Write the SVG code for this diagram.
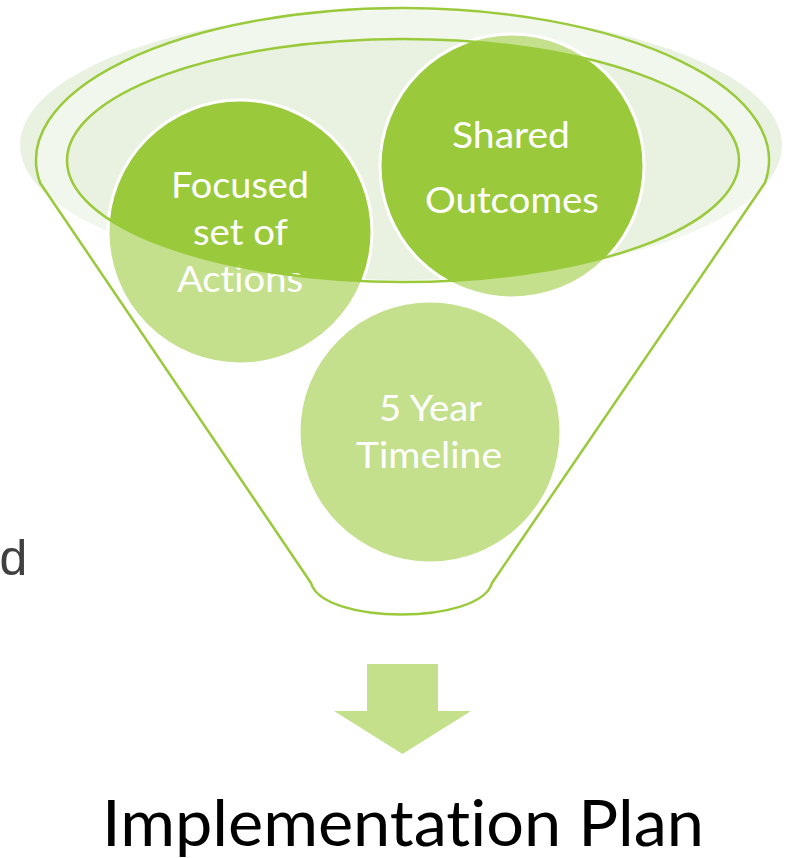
<svg xmlns="http://www.w3.org/2000/svg" width="792" height="858" viewBox="0 0 792 858">
  <style>
    text { font-variant-ligatures: none; font-feature-settings: "liga" 0, "clig" 0; }
    .bubble { fill: #9ACA3C; stroke: #FFFFFF; stroke-width: 3; }
    .btxt { font-family: Lato, "Open Sans", "Liberation Sans", sans-serif; font-size: 36px; fill: #FFFFFF; text-anchor: middle; }
    .rim { fill: none; stroke: #9ACA3C; stroke-width: 2.5; stroke-linejoin: round; }
  </style>
  <rect width="792" height="858" fill="#FFFFFF"/>

  <g id="funnel-shadow">
    <ellipse cx="401" cy="145" rx="381" ry="135" fill="#E9F2E0"/>
  </g>

  <g id="node-focused">
    <circle class="bubble" cx="240" cy="232" r="132"/>
    <text class="btxt" x="240" y="198" textLength="138" lengthAdjust="spacingAndGlyphs">Focused</text>
    <text class="btxt" x="240.5" y="245" textLength="95" lengthAdjust="spacingAndGlyphs">set of</text>
    <text class="btxt" x="240" y="292" textLength="126" lengthAdjust="spacingAndGlyphs">Actions</text>
  </g>

  <g id="node-shared">
    <circle class="bubble" cx="512" cy="166" r="132"/>
    <text class="btxt" x="511" y="148" textLength="118" lengthAdjust="spacingAndGlyphs">Shared</text>
    <text class="btxt" x="512" y="213" textLength="174" lengthAdjust="spacingAndGlyphs">Outcomes</text>
  </g>

  <g id="node-timeline">
    <circle class="bubble" cx="430" cy="432" r="131"/>
    <text class="btxt" x="430.5" y="421" textLength="103" lengthAdjust="spacingAndGlyphs">5 Year</text>
    <text class="btxt" x="429" y="468" textLength="146" lengthAdjust="spacingAndGlyphs">Timeline</text>
  </g>

  <g id="funnel">
    <path fill="#FFFFFF" fill-opacity="0.42" fill-rule="evenodd"
      d="M 40.2 183 A 366.5 152 0 1 1 764.8 183 L 492 583 C 480 625 323 625 311 583 Z
         M 67 160.5 A 336 121.5 0 1 0 739 160.5 A 336 121.5 0 1 0 67 160.5 Z"/>
    <path class="rim" d="M 40.2 183 A 366.5 152 0 1 1 764.8 183 L 492 583 C 480 625 323 625 311 583 Z"/>
    <ellipse class="rim" cx="403" cy="160.5" rx="336" ry="121.5"/>
  </g>

  <g id="connectors">
    <polygon fill="#C4E08A" points="367,664 438,664 438,711 471,711 402.5,754 334,711 367,711"/>
  </g>

  <g id="node-plan">
    <text x="403" y="846" font-family="Lato, 'Open Sans', 'Liberation Sans', sans-serif" font-size="63" fill="#000000" text-anchor="middle" textLength="602" lengthAdjust="spacingAndGlyphs">Implementation Plan</text>
  </g>

  <g id="fragment">
    <text x="-0.5" y="575" font-family="'Liberation Sans', Arial, sans-serif" font-size="50" fill="#404040">d</text>
  </g>
</svg>
